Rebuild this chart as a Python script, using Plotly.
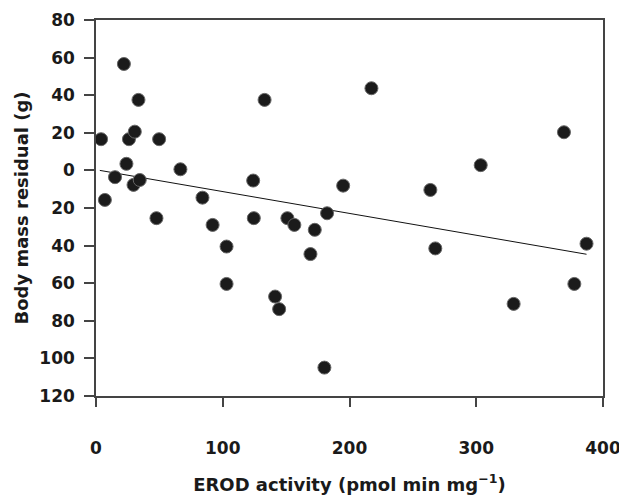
import plotly.graph_objects as go

# EROD activity (pmol min mg^-1)
erod = [4, 7, 15, 22, 24, 26, 30.6, 29.6, 33.5, 34.5, 47.7, 49.8, 66.6, 84, 92,
        103, 103, 124, 124.5, 133, 151, 156.5, 172.6, 169.2, 141.3, 144.5, 180.2,
        217.3, 195, 182.3, 263.8, 303.5, 369.2, 387, 267.7, 377.4, 329.5]
# Body mass residual (g)
residual = [16.6, -15.7, -3.6, 56.6, 3.5, 16.6, 20.6, -7.7, 37.5, -5.1, -25.4, 16.6, 0.6,
            -14.5, -29, -40.5, -60.4, -5.4, -25.4, 37.5, -25.4, -29, -31.6, -44.5, -67.1,
            -73.8, -104.9, 43.7, -8.1, -22.8, -10.4, 2.8, 20.3, -39, -41.5, -60.4, -71]

# regression line endpoints
fit_x = [3, 387]
fit_y = [0, -44.6]

x_ticks = [0, 100, 200, 300, 400]
y_ticks = [80, 60, 40, 20, 0, -20, -40, -60, -80, -100, -120]
y_ticktext = ["80", "60", "40", "20", "0", "20", "40", "60", "80", "100", "120"]

fig = go.Figure()
fig.add_trace(go.Scatter(x=fit_x, y=fit_y, mode="lines",
                         line=dict(color="#111111", width=1), showlegend=False,
                         hoverinfo="skip"))
fig.add_trace(go.Scatter(x=erod, y=residual, mode="markers",
                         marker=dict(symbol="circle", size=13, color="#1b1b1b",
                                     line=dict(color="#666666", width=1)),
                         showlegend=False))

font_family = "DejaVu Sans, sans-serif"
fig.update_layout(
    width=619, height=487,
    margin=dict(l=88, r=24, t=12, b=99, autoexpand=False),
    plot_bgcolor="white", paper_bgcolor="white",
    font=dict(family=font_family, color="#1a1a1a"),
)
fig.update_xaxes(
    range=[0, 400], tickvals=x_ticks, ticktext=[str(v) for v in x_ticks],
    showgrid=False, zeroline=False, automargin=False,
    showline=True, linecolor="#444444", linewidth=1.5, mirror=True,
    ticks="outside", ticklen=9, tickcolor="#444444", tickwidth=1.5,
    ticklabelstandoff=27,
    tickfont=dict(size=17, family=font_family, weight="bold"),
    title=dict(text="EROD activity (pmol min mg<sup>−1</sup>)",
               font=dict(size=18, family=font_family, weight="bold"), standoff=28),
)
fig.update_yaxes(
    range=[-120, 80], tickvals=y_ticks, ticktext=y_ticktext,
    showgrid=False, zeroline=False, automargin=False,
    showline=True, linecolor="#444444", linewidth=1.5, mirror=True,
    ticks="outside", ticklen=10, tickcolor="#444444", tickwidth=1.5,
    ticklabelstandoff=6,
    tickfont=dict(size=17, family=font_family, weight="bold"),
    title=dict(text="Body mass residual (g)",
               font=dict(size=18, family=font_family, weight="bold"), standoff=6),
)
fig.write_html("out.html")
